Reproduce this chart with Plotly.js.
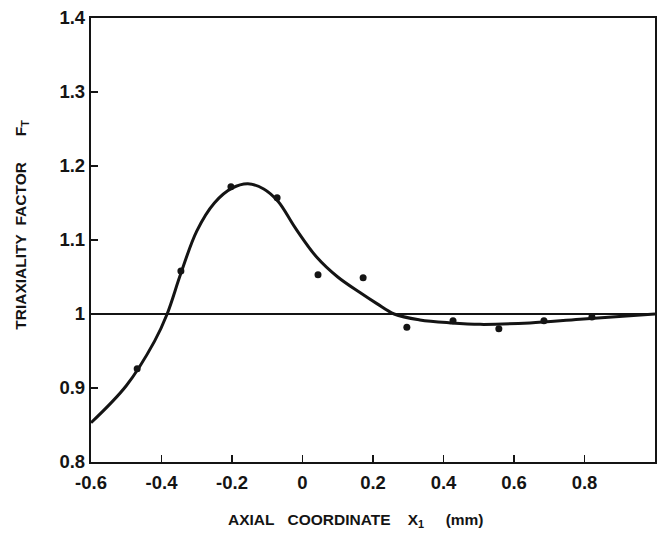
<!DOCTYPE html>
<html>
<head>
<meta charset="utf-8">
<script src="https://cdn.plot.ly/plotly-3.0.1.min.js"></script>
<style>html,body{margin:0;padding:0;background:#fff;}#chart{width:657px;height:537px;}</style>
</head>
<body>
<div id="chart"></div>
<script>
// Measured data points
const pointX = [-0.469, -0.345, -0.203, -0.072, 0.044, 0.172, 0.296, 0.427, 0.557, 0.685, 0.821];
const pointY = [0.926, 1.058, 1.172, 1.157, 1.053, 1.049, 0.982, 0.991, 0.980, 0.991, 0.996];

// Fitted curve
const curveX = [-0.6, -0.5, -0.42, -0.384, -0.345, -0.3, -0.25, -0.2, -0.155, -0.11, -0.069, -0.02, 0.04, 0.1, 0.163, 0.211, 0.26, 0.333, 0.42, 0.504, 0.645, 0.787, 1.0];
const curveY = [0.853, 0.903, 0.963, 1.0, 1.055, 1.112, 1.150, 1.170, 1.176, 1.169, 1.152, 1.116, 1.077, 1.050, 1.029, 1.014, 1.0, 0.992, 0.988, 0.986, 0.988, 0.993, 1.0];

// Reference line F_T = 1
const refX = [-0.6, 1.0];
const refY = [1, 1];

// Tick labels
const xTickVals = [-0.6, -0.4, -0.2, 0, 0.2, 0.4, 0.6, 0.8, 1.0];
const xTickText = ["-0.6", "-0.4", "-0.2", "0", "0.2", "0.4", "0.6", "0.8", "1"];
const yTickVals = [0.8, 0.9, 1.0, 1.1, 1.2, 1.3, 1.4];
const yTickText = ["0.8", "0.9", "1", "1.1", "1.2", "1.3", "1.4"];

const ink = '#141414';
const fam = '"Liberation Sans", Arial, sans-serif';
const traces = [
  {x: refX, y: refY, mode: 'lines', line: {color: ink, width: 2.2}, hoverinfo: 'skip'},
  {x: curveX, y: curveY, mode: 'lines', line: {color: ink, width: 3, shape: 'spline', smoothing: 1}},
  {x: pointX, y: pointY, mode: 'markers', marker: {color: ink, size: 7}}
];

const layout = {
  width: 657, height: 537,
  margin: {l: 91, r: 2, t: 18, b: 75},
  paper_bgcolor: '#fff', plot_bgcolor: '#fff',
  showlegend: false,
  font: {family: fam, color: ink},
  xaxis: {
    range: [-0.6, 1.0], tickvals: xTickVals, ticktext: xTickText,
    ticks: 'inside', ticklen: 7, tickwidth: 1.5, tickcolor: ink,
    showline: true, linecolor: ink, linewidth: 2.2, mirror: true,
    showgrid: false, zeroline: false, ticklabelstandoff: 3,
    tickfont: {size: 18.5, family: fam, weight: 'bold', color: ink},
    title: {text: 'AXIAL&nbsp;&nbsp;&nbsp;COORDINATE&nbsp;&nbsp;&nbsp;&nbsp;X<sub>1</sub>&nbsp;&nbsp;&nbsp;&nbsp;&nbsp;(mm)&nbsp;&nbsp;&nbsp;&nbsp;&nbsp;&nbsp;&nbsp;&nbsp;', standoff: 22,
            font: {size: 15.5, family: fam, weight: 'bold', color: ink}}
  },
  yaxis: {
    range: [0.8, 1.4], tickvals: yTickVals, ticktext: yTickText,
    ticks: 'inside', ticklen: 7, tickwidth: 1.5, tickcolor: ink,
    showline: true, linecolor: ink, linewidth: 2.2, mirror: true,
    showgrid: false, zeroline: false,
    tickfont: {size: 18.5, family: fam, weight: 'bold', color: ink},
    title: {text: '&nbsp;&nbsp;&nbsp;&nbsp;&nbsp;&nbsp;&nbsp;TRIAXIALITY&nbsp;&nbsp;FACTOR&nbsp;&nbsp;&nbsp;&nbsp;&nbsp;&nbsp;F<sub>T</sub>', standoff: 29,
            font: {size: 15.5, family: fam, weight: 'bold', color: ink}}
  }
};

Plotly.newPlot('chart', traces, layout, {staticPlot: true, displayModeBar: false});
</script>
</body>
</html>
